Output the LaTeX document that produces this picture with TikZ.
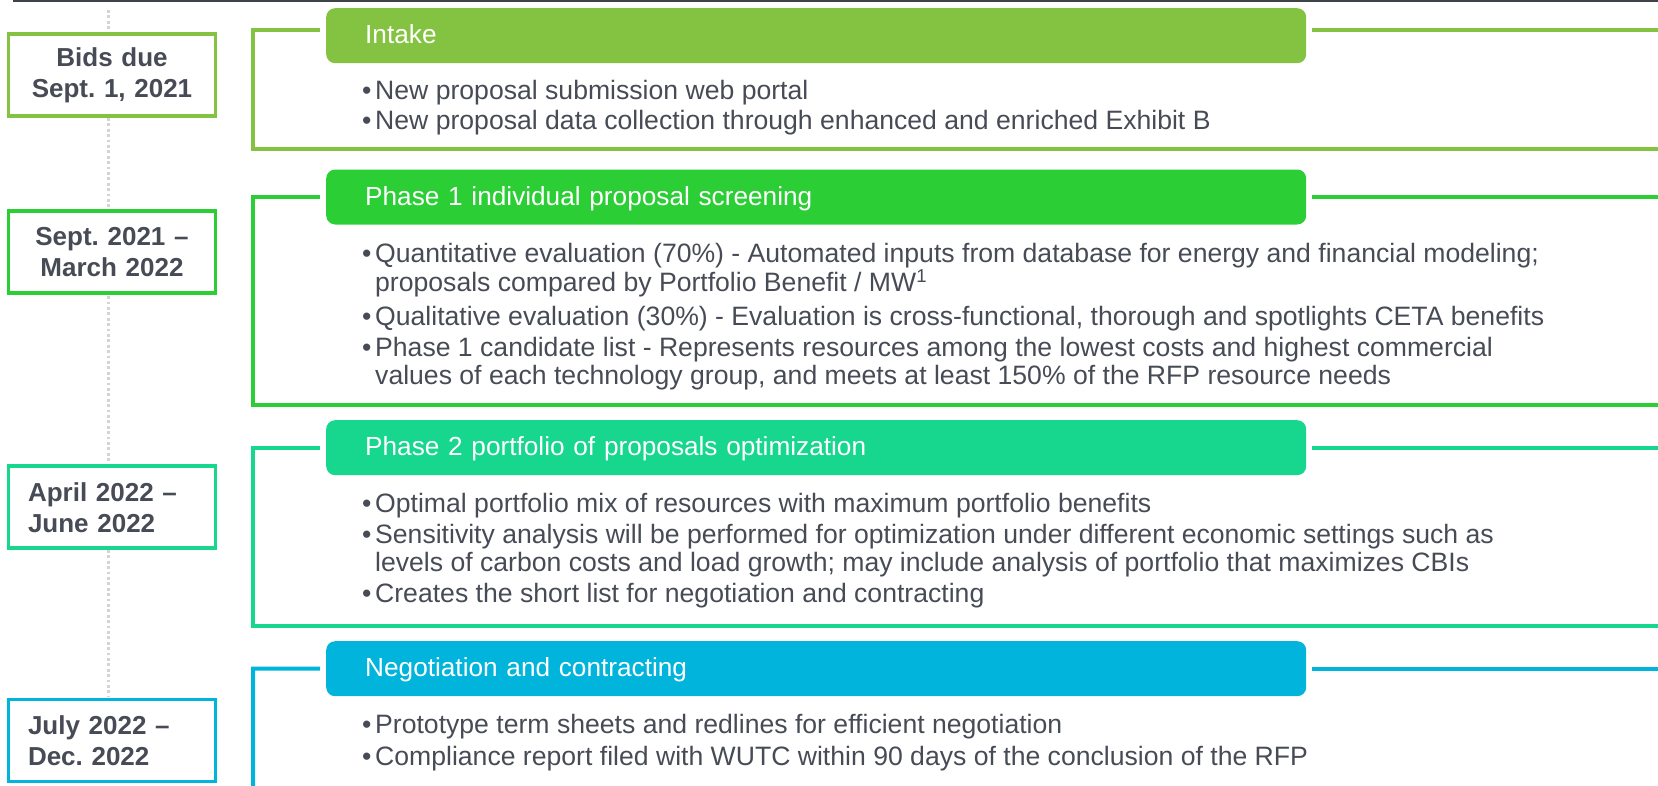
\documentclass[tikz,border=0pt]{standalone}
\usepackage{fontspec}
\setmainfont{Liberation Sans}
\usepackage{xcolor}
\usepackage{tikz}
\usetikzlibrary{calc}

\definecolor{intakegreen}{HTML}{84C341}
\definecolor{screengreen}{HTML}{2BCF35}
\definecolor{optimteal}{HTML}{17D68D}
\definecolor{negoblue}{HTML}{00B4DC}
\definecolor{textgray}{HTML}{474B55}
\definecolor{rulegray}{HTML}{3E434B}
\definecolor{dotgray}{HTML}{D4D4D4}

\newcommand{\bul}{\makebox[13pt][l]{\textbullet}}
\frenchspacing

\begin{document}
\begin{tikzpicture}[x=1pt, y=-1pt,
        datebox/.style={draw, line width=3.5pt, fill=white, minimum width=207pt, minimum height=82pt, text width=168pt, inner xsep=19.5pt, align=center, text=textgray, font=\fontsize{26}{31}\selectfont\bfseries},
        tab/.style={rounded corners=9pt, anchor=north west, minimum width=980pt, minimum height=55pt, text width=902pt, inner xsep=39pt, text height=19pt, text depth=3pt, align=left, text=white, font=\fontsize{26.2}{30}\selectfont},
        body/.style={anchor=base west, inner sep=0pt, text=textgray, font=\fontsize{26.6}{27}\selectfont},
        frame/.style={line width=4pt}
    ]
        \useasboundingbox (0,0) rectangle (1658,785);
        \clip (0,0) rectangle (1658,785);

        % rule and timeline
        \draw[rulegray, line width=2pt] (13,1) -- (1658,1);
        \coordinate (timetop) at (108.5,10);
        \coordinate (timebot) at (108.5,697);
        \draw[dotgray, line width=3pt, dash pattern=on 2.7pt off 2.7pt] (timetop) -- (timebot);

        % dates
        \node[datebox, draw=intakegreen] (dateA) at (112,74.8) {Bids due\\Sept. 1, 2021};
        \node[datebox, draw=screengreen] (dateB) at (112,252.2) {Sept. 2021 --\\March 2022};
        \node[datebox, draw=optimteal, align=left] (dateC) at (112,507.2) {April 2022 --\\June 2022};
        \node[datebox, draw=negoblue, align=left] (dateD) at (112,740.3) {July 2022 --\\Dec. 2022};

        % headers
        \node[tab, fill=intakegreen] (intake) at (326,8) {Intake};
        \node[tab, fill=screengreen] (screen) at (326,169.3) {Phase 1 individual proposal screening};
        \node[tab, fill=optimteal] (optim) at (326,420) {Phase 2 portfolio of proposals optimization};
        \node[tab, fill=negoblue] (nego) at (326,641) {Negotiation and contracting};

        % frames
        \draw[frame, intakegreen] ($(intake.west)+(-6,-5.5)$) -| (253,149) -- (1700,149);
        \draw[frame, intakegreen] ($(intake.east)+(6,-5.5)$) -- ++(400,0);
        \draw[frame, screengreen] ($(screen.west)+(-6,0)$) -| (253,405) -- (1700,405);
        \draw[frame, screengreen] ($(screen.east)+(6,0)$) -- ++(400,0);
        \draw[frame, optimteal] ($(optim.west)+(-6,0)$) -| (253,626) -- (1700,626);
        \draw[frame, optimteal] ($(optim.east)+(6,0)$) -- ++(400,0);
        \draw[frame, negoblue] ($(nego.west)+(-6,0)$) -- (253,668.5) -- (253,800);
        \draw[frame, negoblue] ($(nego.east)+(6,0)$) -- ++(400,0);

        % bullet texts
        \node[body] (intakeText) at (362,99) {\begin{tabular}[t]{@{}l@{}l@{}}
            \bul & New proposal submission web portal\\[3pt]
            \bul & New proposal data collection through enhanced and enriched Exhibit B
        \end{tabular}};
        \node[body] (screenText) at (362,262) {\begin{tabular}[t]{@{}l@{}l@{}}
            \bul & Quantitative evaluation (70\%) - Automated inputs from database for energy and financial modeling;\\
                 & proposals compared by Portfolio Benefit / MW\textsuperscript{1}\\[6pt]
            \bul & Qualitative evaluation (30\%) - Evaluation is cross-functional, thorough and spotlights CETA benefits\\[4pt]
            \bul & Phase 1 candidate list - Represents resources among the lowest costs and highest commercial\\
                 & values of each technology group, and meets at least 150\% of the RFP resource needs
        \end{tabular}};
        \node[body] (optimText) at (362,512) {\begin{tabular}[t]{@{}l@{}l@{}}
            \bul & Optimal portfolio mix of resources with maximum portfolio benefits\\[4pt]
            \bul & Sensitivity analysis will be performed for optimization under different economic settings such as\\[1pt]
                 & levels of carbon costs and load growth; may include analysis of portfolio that maximizes CBIs\\[3pt]
            \bul & Creates the short list for negotiation and contracting
        \end{tabular}};
        \node[body] (negoText) at (362,733) {\begin{tabular}[t]{@{}l@{}l@{}}
            \bul & Prototype term sheets and redlines for efficient negotiation\\[5pt]
            \bul & Compliance report filed with WUTC within 90 days of the conclusion of the RFP
        \end{tabular}};
    \end{tikzpicture}
\end{document}
